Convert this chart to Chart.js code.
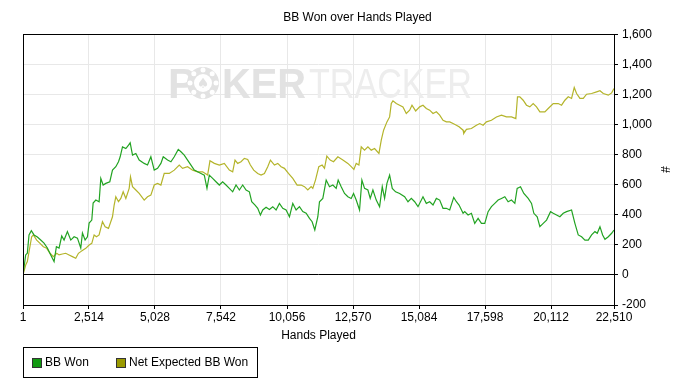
<!DOCTYPE html>
<html lang="en">
<head>
  <meta charset="UTF-8" />
  <title>BB Won over Hands Played</title>
  <script src="https://cdn.jsdelivr.net/npm/chart.js"></script>
  <style>
    html, body { margin: 0; padding: 0; background: #fff; }
    #wrap { position: relative; width: 692px; height: 390px; }
    #legend {
      position: absolute; left: 23px; top: 347px; width: 235px; height: 31px;
      box-sizing: border-box; border: 1px solid #000;
      font: 12px "Liberation Sans", Arial, sans-serif; color: #000;
    }
    #legend span { position: absolute; top: 7px; }
    #legend i { position: absolute; top: 10px; width: 8px; height: 8px; border: 1px solid #333; }
  </style>
</head>
<body>
  <div id="wrap">
    <canvas id="bbChart" width="692" height="390"></canvas>
    <div id="legend">
      <i style="left:8px;background:#119911"></i><span style="left:21px">BB Won</span>
      <i style="left:92px;background:#999900"></i><span style="left:105px">Net Expected BB Won</span>
    </div>
  </div>

  <script>
    // x axis ticks (hands)
    const xTicks = [1, 2514, 5028, 7542, 10056, 12570, 15084, 17598, 20112, 22510];

    // BB Won (green)
    const wonHands = [1,103,166,230,319,421,548,675,802,929,1057,1184,1273,1374,1476,1565,1692,1820,1947,2074,
      2201,2265,2366,2455,2519,2621,2672,2774,2900,2964,3053,3155,3307,3409,3536,3638,3702,3790,3918,4020,
      4083,4172,4299,4426,4617,4744,4871,4999,5126,5253,5342,
      5507,5634,5762,5914,6016,6143,6270,6398,6525,6652,6779,6906,7008,7097,7224,7351,7478,7605,7733,7860,
      7987,8114,8241,8368,8496,8623,8712,8839,8941,9043,9132,9259,9386,9513,9640,9767,9894,10022,10149,10276,
      10403,10530,10657,10785,10912,
      11013,11115,11230,11293,11420,11548,11675,11802,11929,12005,12120,12247,12374,12501,12590,12692,12819,12908,13010,13137,
      13226,13328,13455,13582,13684,13773,13862,13964,14065,14192,14345,14536,14664,14791,14918,15045,15235,15362,15490,15617,
      15744,15871,15998,16125,16253,16406,16507,16609,
      16762,16825,16952,17079,17206,17334,17461,17588,17715,17842,17970,18097,18224,18351,18478,18605,18733,18822,18949,19076,
      19242,19369,19457,19585,19687,19814,19941,20093,20195,20322,20449,20576,20703,20894,21021,21148,21276,21403,21530,21657,
      21784,21873,21975,22077,22166,22293,22420,22510];
    const wonBB = [0,133,144,266,294,266,252,232,212,179,133,89,188,179,259,232,288,232,254,245,
      179,279,232,254,345,365,478,498,487,642,598,609,620,697,720,753,786,852,841,863,
      879,797,808,764,742,731,786,697,709,742,786,
      764,753,786,835,819,797,764,731,697,686,675,664,576,664,642,620,598,620,598,576,
      553,598,565,598,565,553,487,465,443,399,432,450,436,454,432,476,443,432,387,476,
      432,454,421,410,376,
      354,299,387,487,509,631,587,598,576,631,587,542,520,509,542,498,432,631,576,565,
      509,565,498,454,587,509,609,664,576,553,542,520,487,509,487,454,520,476,487,465,
      509,498,443,443,432,516,487,465,
      410,421,399,410,343,376,343,343,421,454,476,498,509,520,487,498,476,576,587,542,
      509,476,410,387,321,343,365,421,410,399,387,410,421,432,343,266,254,232,232,266,
      288,277,321,266,237,254,277,299];

    // Net Expected BB Won (olive)
    const expHands = [1,103,166,331,395,522,650,777,904,1031,1158,1285,1374,1501,1629,1756,1883,2010,2112,2201,
      2290,2392,2519,2621,2710,2799,2900,3028,3129,3257,3409,3473,3536,3638,3727,3816,3918,4045,4095,4172,
      4299,4426,4617,4744,4871,4999,5126,5253,5380,
      5571,5762,5952,6079,6270,6461,6652,6842,7033,7122,7288,7478,7669,7860,7987,8076,8178,8305,8432,8559,
      8661,8788,8941,9068,9195,9322,9424,9577,9704,9831,9958,10111,10276,10441,10593,10721,10848,10976,
      11038,11140,11267,11394,11484,11573,11700,11828,11993,12184,12374,12501,12603,12692,12794,12883,13010,13137,13264,13392,
      13557,13646,13735,13862,13964,14027,14091,14218,14345,14472,14599,14727,14816,14956,15108,15235,15362,15490,15617,15744,
      15871,15998,16125,16253,16380,16507,16609,
      16762,16787,16889,17079,17270,17397,17525,17652,17842,18033,18224,18414,18605,18771,18834,18923,19050,19177,19304,19432,
      19559,19687,19877,20004,20195,20386,20513,20640,20767,20894,20996,21085,21212,21339,21466,21657,21848,21975,22102,22293,
      22420,22510];
    const expBB = [0,66,89,254,266,232,210,188,177,144,122,144,133,139,144,133,122,111,144,155,
      166,177,199,210,266,254,266,354,321,310,387,465,520,487,509,553,509,576,653,587,
      565,542,498,520,531,598,609,598,675,
      675,697,731,709,720,697,686,686,664,759,742,731,742,697,686,764,742,753,775,768,
      731,697,675,664,675,720,764,731,742,720,709,675,642,598,598,587,565,587,
      576,631,720,731,709,790,764,753,786,764,742,720,702,742,731,852,830,852,830,841,
      808,897,963,1018,1051,1140,1158,1140,1129,1118,1074,1096,1129,1091,1118,1129,1107,1096,1074,1085,
      1063,1029,1018,1018,1007,996,985,
      963,941,968,974,996,1007,996,1018,1029,1051,1063,1051,1051,1040,1185,1185,1162,1129,1118,1140,
      1118,1085,1085,1107,1140,1140,1129,1162,1185,1174,1247,1207,1174,1174,1202,1207,1218,1225,1207,1196,
      1211,1240];

    const fmt = v => Number(v).toLocaleString('en-US');

    Chart.defaults.font.family = '"Liberation Sans", Arial, sans-serif';
    Chart.defaults.font.size = 12;
    Chart.defaults.color = '#000';

    // faint watermark behind the lines
    const watermark = {
      id: 'watermark',
      beforeDatasetsDraw(chart) {
        const c = chart.ctx;
        c.save();
        c.textBaseline = 'alphabetic';
        c.fillStyle = '#e2e2e2';
        c.font = 'bold 42px "Liberation Sans", Arial, sans-serif';
        c.fillText('P', 168, 98);
        // chip in place of the O
        const cx = 203, cy = 83, r = 16;
        c.beginPath(); c.arc(cx, cy, r, 0, Math.PI * 2); c.fill();
        c.fillStyle = '#fff';
        for (let i = 0; i < 8; i++) {
          const a = i * Math.PI / 4;
          c.beginPath(); c.arc(cx + Math.cos(a) * (r - 3), cy + Math.sin(a) * (r - 3), 2.5, 0, Math.PI * 2); c.fill();
        }
        c.beginPath(); c.arc(cx, cy, 9, 0, Math.PI * 2); c.fill();
        c.fillStyle = '#e2e2e2';
        c.font = '14px "DejaVu Sans", sans-serif';
        c.textAlign = 'center';
        c.fillText('\u2660', cx, cy + 5);
        c.textAlign = 'left';
        c.font = 'bold 42px "Liberation Sans", Arial, sans-serif';
        let w = c.measureText('KER').width;
        c.save(); c.translate(222, 98); c.scale(84 / w, 1); c.fillText('KER', 0, 0); c.restore();
        c.fillStyle = '#ededed';
        c.font = '42px "Liberation Sans", Arial, sans-serif';
        w = c.measureText('TRACKER').width;
        c.save(); c.translate(309, 98); c.scale(163 / w, 1); c.fillText('TRACKER', 0, 0); c.restore();
        c.restore();
      }
    };

    // black frame round the plot area
    const frame = {
      id: 'frame',
      afterDraw(chart) {
        const { left, top, right, bottom } = chart.chartArea;
        const c = chart.ctx;
        c.save();
        c.strokeStyle = '#000';
        c.lineWidth = 1;
        c.strokeRect(Math.round(left) + 0.5, Math.round(top) + 0.5, Math.round(right - left), Math.round(bottom - top));
        c.restore();
      }
    };

    const ctx = document.getElementById('bbChart').getContext('2d');
    new Chart(ctx, {
      type: 'line',
      data: {
        datasets: [{
          label: 'BB Won',
          data: wonHands.map((h, i) => ({ x: h, y: wonBB[i] })),
          borderColor: '#22a322',
          borderWidth: 1.2,
          pointRadius: 0,
          tension: 0
        }, {
          label: 'Net Expected BB Won',
          data: expHands.map((h, i) => ({ x: h, y: expBB[i] })),
          borderColor: '#b4b42a',
          borderWidth: 1.2,
          pointRadius: 0,
          tension: 0
        }]
      },
      options: {
        responsive: false,
        animation: false,
        events: [],
        layout: { padding: { left: 23, right: 0, top: 0, bottom: 43 } },
        plugins: {
          legend: { display: false },
          tooltip: { enabled: false },
          title: {
            display: true,
            text: 'BB Won over Hands Played',
            font: { size: 12, weight: 'normal' },
            color: '#000',
            padding: { top: 10, bottom: 10 }
          }
        },
        scales: {
          x: {
            type: 'linear',
            min: 1,
            max: 22510,
            afterBuildTicks: s => { s.ticks = xTicks.map(v => ({ value: v })); },
            afterFit: s => { s.height = 42; },
            ticks: { callback: v => fmt(v), autoSkip: false, maxRotation: 0, padding: 1 },
            grid: { color: '#e8e8e8', tickColor: '#000', tickLength: 4 },
            border: { color: '#000' },
            title: { display: true, text: 'Hands Played', padding: { top: 4, bottom: 4 } }
          },
          y: {
            position: 'right',
            min: -200,
            max: 1600,
            afterFit: s => { s.width = 78; },
            ticks: { stepSize: 200, callback: v => fmt(v), padding: 4 },
            grid: {
              color: c => (c.tick && c.tick.value === 0) ? '#000' : '#e8e8e8',
              tickColor: '#000',
              tickLength: 4
            },
            border: { color: '#000' },
            title: { display: true, text: '#', padding: { top: 20, bottom: 0 } }
          }
        }
      },
      plugins: [watermark, frame]
    });
  </script>
</body>
</html>
